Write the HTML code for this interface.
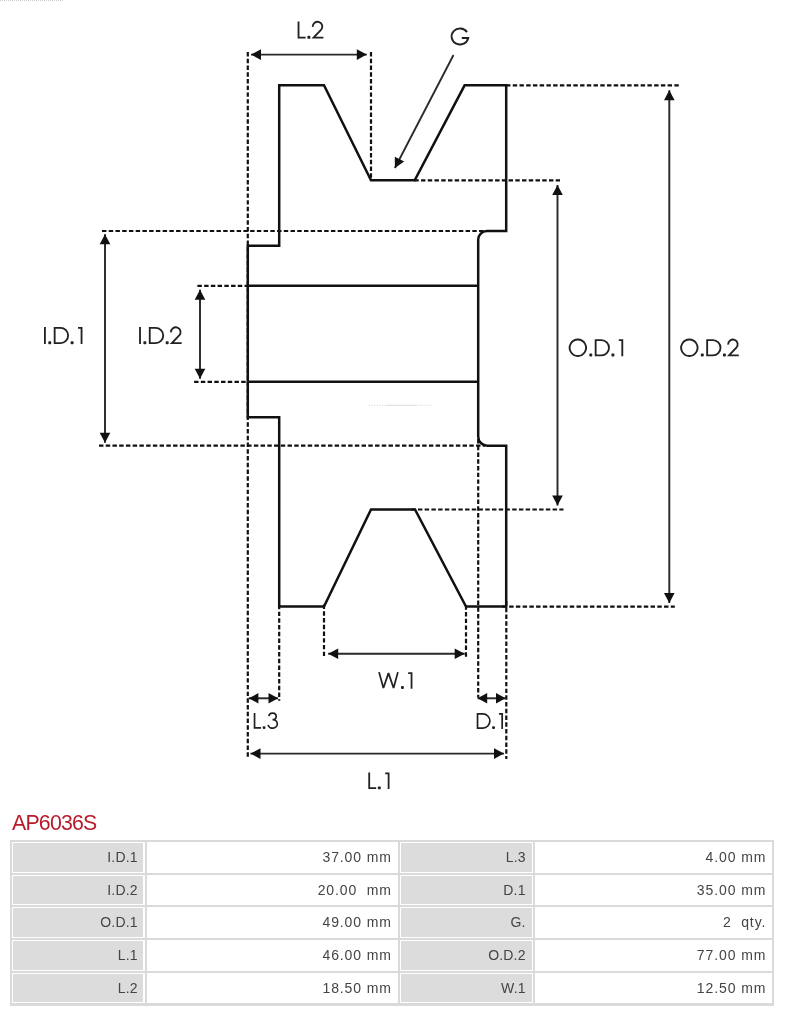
<!DOCTYPE html>
<html><head><meta charset="utf-8"><title>AP6036S</title>
<style>
html,body{margin:0;padding:0;background:#fff;}
body{width:788px;height:1011px;position:relative;overflow:hidden;font-family:"Liberation Sans",sans-serif;}
svg{position:absolute;left:0;top:0;}
h1{position:absolute;left:11.5px;top:811px;margin:0;font-weight:normal;font-size:21.3px;line-height:24px;color:#b81c2a;letter-spacing:-0.78px;will-change:transform;}
.t{position:absolute;left:10px;top:840px;width:764px;height:165.50px;background:#dadada;will-change:transform;}
.c{position:absolute;box-sizing:border-box;border:1px solid #fff;display:flex;align-items:center;justify-content:flex-end;font-size:14px;letter-spacing:0.5px;color:#444;white-space:nowrap;}
.c span{display:block;position:relative;top:-0.5px;}
.k{background:#dcdcdc;letter-spacing:0.2px;}
.v{background:#fff;letter-spacing:0.9px;}
</style></head><body>
<svg width="788" height="810" viewBox="0 0 788 810">
<line x1="0" y1="0.5" x2="63" y2="0.5" stroke="#cfcfcf" stroke-width="1" stroke-dasharray="1 1"/>
<line x1="369" y1="405.3" x2="434" y2="405.3" stroke="#d4d4d4" stroke-width="1" stroke-dasharray="1 1.6"/>
<line x1="386" y1="405.3" x2="417" y2="405.3" stroke="#dedede" stroke-width="1"/>
<line x1="247.8" y1="52" x2="247.8" y2="757" stroke="#111" stroke-width="2.2" stroke-dasharray="4.45 2.283"/>
<line x1="371" y1="52" x2="371" y2="180" stroke="#111" stroke-width="2.2" stroke-dasharray="4.45 2.283"/>
<line x1="506" y1="85.3" x2="679" y2="85.3" stroke="#111" stroke-width="2.2" stroke-dasharray="4.45 2.283"/>
<line x1="502.43" y1="606.7" x2="674.8" y2="606.7" stroke="#111" stroke-width="2.2" stroke-dasharray="4.45 2.283"/>
<line x1="414.3" y1="180.3" x2="560" y2="180.3" stroke="#111" stroke-width="2.2" stroke-dasharray="4.45 2.283"/>
<line x1="411.2" y1="509.5" x2="563.5" y2="509.5" stroke="#111" stroke-width="2.2" stroke-dasharray="4.45 2.283"/>
<line x1="102" y1="231" x2="484" y2="231" stroke="#111" stroke-width="2.2" stroke-dasharray="4.45 2.283"/>
<line x1="99" y1="445.7" x2="485" y2="445.7" stroke="#111" stroke-width="2.2" stroke-dasharray="4.45 2.283"/>
<line x1="197.4" y1="285.8" x2="248" y2="285.8" stroke="#111" stroke-width="2.2" stroke-dasharray="4.45 2.283"/>
<line x1="194.1" y1="381.9" x2="248" y2="381.9" stroke="#111" stroke-width="2.2" stroke-dasharray="4.45 2.283"/>
<line x1="279.2" y1="604.9" x2="279.2" y2="700.8" stroke="#111" stroke-width="2.2" stroke-dasharray="4.45 2.283"/>
<line x1="324" y1="604.5" x2="324" y2="655.9" stroke="#111" stroke-width="2.2" stroke-dasharray="4.45 2.283"/>
<line x1="466" y1="605.2" x2="466" y2="656.9" stroke="#111" stroke-width="2.2" stroke-dasharray="4.45 2.283"/>
<line x1="478.2" y1="439.0" x2="478.2" y2="697.5" stroke="#111" stroke-width="2.2" stroke-dasharray="4.45 2.283"/>
<line x1="506.3" y1="601.1" x2="506.3" y2="759" stroke="#111" stroke-width="2.2" stroke-dasharray="4.45 2.283"/>
<path d="M279.2,85.3 H324 L371,180.3 H414.7 L464.6,85.3 H506.2 V231 H486.8 A8.6,8.6 0 0 0 478.2,239.6 V436.5 A9.2,9.2 0 0 0 487.4,445.7 H506.2 V606.6 H466 L415,509.5 H371 L324,606.6 H279.2 V417.3 H247.8 V245.8 H279.2 Z" fill="none" stroke="#111" stroke-width="2.5" stroke-linejoin="miter"/>
<line x1="247.8" y1="285.8" x2="478.2" y2="285.8" stroke="#111" stroke-width="2.5"/>
<line x1="247.8" y1="381.8" x2="478.2" y2="381.8" stroke="#111" stroke-width="2.5"/>
<line x1="251" y1="54.6" x2="366.8" y2="54.6" stroke="#2a2a2a" stroke-width="1.95"/>
<polygon points="366.80,54.60 356.80,59.90 356.80,49.30" fill="#111"/>
<polygon points="251.00,54.60 261.00,49.30 261.00,59.90" fill="#111"/>
<line x1="453.5" y1="55" x2="394.9" y2="168" stroke="#2a2a2a" stroke-width="1.85"/>
<polygon points="394.90,168.00 394.80,156.68 404.21,161.56" fill="#111"/>
<line x1="105" y1="234.3" x2="105" y2="442.8" stroke="#2a2a2a" stroke-width="1.95"/>
<polygon points="105.00,442.80 99.70,432.80 110.30,432.80" fill="#111"/>
<polygon points="105.00,234.30 110.30,244.30 99.70,244.30" fill="#111"/>
<line x1="200.0" y1="289.8" x2="200.0" y2="378.8" stroke="#2a2a2a" stroke-width="1.95"/>
<polygon points="200.00,378.80 194.70,368.80 205.30,368.80" fill="#111"/>
<polygon points="200.00,289.80 205.30,299.80 194.70,299.80" fill="#111"/>
<line x1="557.5" y1="184.9" x2="557.5" y2="505.5" stroke="#2a2a2a" stroke-width="1.95"/>
<polygon points="557.50,505.50 552.20,495.50 562.80,495.50" fill="#111"/>
<polygon points="557.50,184.90 562.80,194.90 552.20,194.90" fill="#111"/>
<line x1="669.3" y1="90.2" x2="669.3" y2="603.1" stroke="#2a2a2a" stroke-width="1.95"/>
<polygon points="669.30,603.10 664.00,593.10 674.60,593.10" fill="#111"/>
<polygon points="669.30,90.20 674.60,100.20 664.00,100.20" fill="#111"/>
<line x1="328.2" y1="653.7" x2="464.7" y2="653.7" stroke="#2a2a2a" stroke-width="1.95"/>
<polygon points="464.70,653.70 454.70,659.00 454.70,648.40" fill="#111"/>
<polygon points="328.20,653.70 338.20,648.40 338.20,659.00" fill="#111"/>
<line x1="248.8" y1="698.3" x2="278.1" y2="698.3" stroke="#2a2a2a" stroke-width="1.95"/>
<polygon points="278.10,698.30 268.50,703.50 268.50,693.10" fill="#111"/>
<polygon points="248.80,698.30 258.40,693.10 258.40,703.50" fill="#111"/>
<line x1="477.6" y1="698.3" x2="505.6" y2="698.3" stroke="#2a2a2a" stroke-width="1.95"/>
<polygon points="505.60,698.30 496.00,703.50 496.00,693.10" fill="#111"/>
<polygon points="477.60,698.30 487.20,693.10 487.20,703.50" fill="#111"/>
<line x1="250.5" y1="753.6" x2="504" y2="753.6" stroke="#2a2a2a" stroke-width="1.95"/>
<polygon points="504.00,753.60 494.00,758.90 494.00,748.30" fill="#111"/>
<polygon points="250.50,753.60 260.50,748.30 260.50,758.90" fill="#111"/>
<path transform="translate(297.60,21.50) scale(17.100,17.100)" d="M0.054,0 V0.946 H0.47" fill="none" stroke="#222" stroke-width="1.85" vector-effect="non-scaling-stroke" stroke-linejoin="miter" stroke-miterlimit="10"/>
<rect x="307.39" y="35.81" width="2.99" height="2.99" rx="0.90" fill="#222"/>
<path transform="translate(311.62,21.50) scale(17.100,17.100)" d="M0.063,0.315 A0.282,0.282 0 1 1 0.548,0.496 L0.115,0.946 H0.69" fill="none" stroke="#222" stroke-width="1.85" vector-effect="non-scaling-stroke" stroke-linejoin="miter" stroke-miterlimit="10"/>
<path d="M467.04,32.12 A8.4,7.95 0 1 0 468.25,37.95 H461.80" fill="none" stroke="#222" stroke-width="1.85" stroke-linejoin="miter"/>
<path transform="translate(44.00,327.00) scale(17.000,17.000)" d="M0.054,0 V1" fill="none" stroke="#222" stroke-width="1.84" vector-effect="non-scaling-stroke" stroke-linejoin="miter" stroke-miterlimit="10"/>
<rect x="48.26" y="341.22" width="2.97" height="2.97" rx="0.89" fill="#222"/>
<path transform="translate(53.74,327.00) scale(17.000,17.000)" d="M0.054,0.054 H0.40 A0.446,0.446 0 0 1 0.40,0.946 H0.054 Z" fill="none" stroke="#222" stroke-width="1.84" vector-effect="non-scaling-stroke" stroke-linejoin="miter" stroke-miterlimit="10"/>
<rect x="70.61" y="341.22" width="2.97" height="2.97" rx="0.89" fill="#222"/>
<path transform="translate(78.05,327.00) scale(17.000,17.000)" d="M0,0.054 H0.20600000000000002 V1" fill="none" stroke="#222" stroke-width="1.84" vector-effect="non-scaling-stroke" stroke-linejoin="miter" stroke-miterlimit="10"/>
<path transform="translate(139.10,327.00) scale(17.000,17.000)" d="M0.054,0 V1" fill="none" stroke="#222" stroke-width="1.84" vector-effect="non-scaling-stroke" stroke-linejoin="miter" stroke-miterlimit="10"/>
<rect x="143.36" y="341.22" width="2.97" height="2.97" rx="0.89" fill="#222"/>
<path transform="translate(148.84,327.00) scale(17.000,17.000)" d="M0.054,0.054 H0.40 A0.446,0.446 0 0 1 0.40,0.946 H0.054 Z" fill="none" stroke="#222" stroke-width="1.84" vector-effect="non-scaling-stroke" stroke-linejoin="miter" stroke-miterlimit="10"/>
<rect x="165.71" y="341.22" width="2.97" height="2.97" rx="0.89" fill="#222"/>
<path transform="translate(169.92,327.00) scale(17.000,17.000)" d="M0.063,0.315 A0.282,0.282 0 1 1 0.548,0.496 L0.115,0.946 H0.69" fill="none" stroke="#222" stroke-width="1.84" vector-effect="non-scaling-stroke" stroke-linejoin="miter" stroke-miterlimit="10"/>
<path transform="translate(568.80,339.20) scale(16.844,17.100)" d="M0.5375,0.015000000000000013 A0.485,0.485 0 1 1 0.5365,0.015000000000000013 Z" fill="none" stroke="#222" stroke-width="1.85" vector-effect="non-scaling-stroke" stroke-linejoin="miter" stroke-miterlimit="10"/>
<rect x="589.28" y="353.51" width="2.99" height="2.99" rx="0.90" fill="#222"/>
<path transform="translate(594.74,339.20) scale(16.844,17.100)" d="M0.054,0.054 H0.40 A0.446,0.446 0 0 1 0.40,0.946 H0.054 Z" fill="none" stroke="#222" stroke-width="1.85" vector-effect="non-scaling-stroke" stroke-linejoin="miter" stroke-miterlimit="10"/>
<rect x="611.43" y="353.51" width="2.99" height="2.99" rx="0.90" fill="#222"/>
<path transform="translate(618.83,339.20) scale(16.844,17.100)" d="M0,0.054 H0.20600000000000002 V1" fill="none" stroke="#222" stroke-width="1.85" vector-effect="non-scaling-stroke" stroke-linejoin="miter" stroke-miterlimit="10"/>
<path transform="translate(680.30,339.20) scale(16.844,17.100)" d="M0.5375,0.015000000000000013 A0.485,0.485 0 1 1 0.5365,0.015000000000000013 Z" fill="none" stroke="#222" stroke-width="1.85" vector-effect="non-scaling-stroke" stroke-linejoin="miter" stroke-miterlimit="10"/>
<rect x="700.78" y="353.51" width="2.99" height="2.99" rx="0.90" fill="#222"/>
<path transform="translate(706.24,339.20) scale(16.844,17.100)" d="M0.054,0.054 H0.40 A0.446,0.446 0 0 1 0.40,0.946 H0.054 Z" fill="none" stroke="#222" stroke-width="1.85" vector-effect="non-scaling-stroke" stroke-linejoin="miter" stroke-miterlimit="10"/>
<rect x="722.93" y="353.51" width="2.99" height="2.99" rx="0.90" fill="#222"/>
<path transform="translate(727.12,339.20) scale(16.844,17.100)" d="M0.063,0.315 A0.282,0.282 0 1 1 0.548,0.496 L0.115,0.946 H0.69" fill="none" stroke="#222" stroke-width="1.85" vector-effect="non-scaling-stroke" stroke-linejoin="miter" stroke-miterlimit="10"/>
<path transform="translate(378.40,672.30) scale(16.400,16.400)" d="M0.04,-0.01 L0.305,0.955 L0.615,0.05 L0.925,0.955 L1.19,-0.01" fill="none" stroke="#222" stroke-width="1.77" vector-effect="non-scaling-stroke" stroke-linejoin="bevel" stroke-miterlimit="10"/>
<rect x="400.99" y="686.03" width="2.87" height="2.87" rx="0.86" fill="#222"/>
<path transform="translate(408.17,672.30) scale(16.400,16.400)" d="M0,0.054 H0.20600000000000002 V1" fill="none" stroke="#222" stroke-width="1.77" vector-effect="non-scaling-stroke" stroke-linejoin="miter" stroke-miterlimit="10"/>
<path transform="translate(253.70,713.00) scale(15.700,15.700)" d="M0.054,0 V0.946 H0.47" fill="none" stroke="#222" stroke-width="1.70" vector-effect="non-scaling-stroke" stroke-linejoin="miter" stroke-miterlimit="10"/>
<rect x="262.69" y="726.15" width="2.75" height="2.75" rx="0.82" fill="#222"/>
<path transform="translate(267.04,713.00) scale(15.700,15.700)" d="M0.118,0.196 A0.233,0.21 0 1 1 0.350,0.424 A0.3,0.27 0 1 1 0.062,0.755" fill="none" stroke="#222" stroke-width="1.70" vector-effect="non-scaling-stroke" stroke-linejoin="miter" stroke-miterlimit="10"/>
<path transform="translate(476.70,713.10) scale(15.563,15.800)" d="M0.054,0.054 H0.40 A0.446,0.446 0 0 1 0.40,0.946 H0.054 Z" fill="none" stroke="#222" stroke-width="1.71" vector-effect="non-scaling-stroke" stroke-linejoin="miter" stroke-miterlimit="10"/>
<rect x="492.13" y="726.34" width="2.77" height="2.77" rx="0.83" fill="#222"/>
<path transform="translate(498.96,713.10) scale(15.563,15.800)" d="M0,0.054 H0.20600000000000002 V1" fill="none" stroke="#222" stroke-width="1.71" vector-effect="non-scaling-stroke" stroke-linejoin="miter" stroke-miterlimit="10"/>
<path transform="translate(368.30,772.40) scale(16.700,16.700)" d="M0.054,0 V0.946 H0.47" fill="none" stroke="#222" stroke-width="1.80" vector-effect="non-scaling-stroke" stroke-linejoin="miter" stroke-miterlimit="10"/>
<rect x="377.86" y="786.38" width="2.92" height="2.92" rx="0.88" fill="#222"/>
<path transform="translate(385.17,772.40) scale(16.700,16.700)" d="M0,0.054 H0.20600000000000002 V1" fill="none" stroke="#222" stroke-width="1.80" vector-effect="non-scaling-stroke" stroke-linejoin="miter" stroke-miterlimit="10"/>
</svg>
<h1>AP6036S</h1>
<div class="t">
<div class="c k" style="left:2.0px;top:2.00px;width:133.0px;height:30.70px;border-left-width:1px;border-right-width:2px;padding-right:5.2px"><span>I.D.1</span></div>
<div class="c v" style="left:137.0px;top:2.00px;width:250.6px;height:30.70px;border-left-width:1px;border-right-width:1px;padding-right:4.7px"><span>37.00 mm</span></div>
<div class="c k" style="left:389.5px;top:2.00px;width:133.5px;height:30.70px;border-left-width:1.5px;border-right-width:1.7px;padding-right:6.3px"><span>L.3</span></div>
<div class="c v" style="left:525.0px;top:2.00px;width:237.0px;height:30.70px;border-left-width:1px;border-right-width:1px;padding-right:4.7px"><span>4.00 mm</span></div>
<div class="c k" style="left:2.0px;top:34.70px;width:133.0px;height:30.70px;border-left-width:1px;border-right-width:2px;padding-right:5.2px"><span>I.D.2</span></div>
<div class="c v" style="left:137.0px;top:34.70px;width:250.6px;height:30.70px;border-left-width:1px;border-right-width:1px;padding-right:4.7px"><span>20.00&nbsp; mm</span></div>
<div class="c k" style="left:389.5px;top:34.70px;width:133.5px;height:30.70px;border-left-width:1.5px;border-right-width:1.7px;padding-right:6.3px"><span>D.1</span></div>
<div class="c v" style="left:525.0px;top:34.70px;width:237.0px;height:30.70px;border-left-width:1px;border-right-width:1px;padding-right:4.7px"><span>35.00 mm</span></div>
<div class="c k" style="left:2.0px;top:67.40px;width:133.0px;height:30.70px;border-left-width:1px;border-right-width:2px;padding-right:5.2px"><span>O.D.1</span></div>
<div class="c v" style="left:137.0px;top:67.40px;width:250.6px;height:30.70px;border-left-width:1px;border-right-width:1px;padding-right:4.7px"><span>49.00 mm</span></div>
<div class="c k" style="left:389.5px;top:67.40px;width:133.5px;height:30.70px;border-left-width:1.5px;border-right-width:1.7px;padding-right:6.3px"><span>G.</span></div>
<div class="c v" style="left:525.0px;top:67.40px;width:237.0px;height:30.70px;border-left-width:1px;border-right-width:1px;padding-right:4.7px"><span>2&nbsp; qty.</span></div>
<div class="c k" style="left:2.0px;top:100.10px;width:133.0px;height:30.70px;border-left-width:1px;border-right-width:2px;padding-right:5.2px"><span>L.1</span></div>
<div class="c v" style="left:137.0px;top:100.10px;width:250.6px;height:30.70px;border-left-width:1px;border-right-width:1px;padding-right:4.7px"><span>46.00 mm</span></div>
<div class="c k" style="left:389.5px;top:100.10px;width:133.5px;height:30.70px;border-left-width:1.5px;border-right-width:1.7px;padding-right:6.3px"><span>O.D.2</span></div>
<div class="c v" style="left:525.0px;top:100.10px;width:237.0px;height:30.70px;border-left-width:1px;border-right-width:1px;padding-right:4.7px"><span>77.00 mm</span></div>
<div class="c k" style="left:2.0px;top:132.80px;width:133.0px;height:30.70px;border-left-width:1px;border-right-width:2px;padding-right:5.2px"><span>L.2</span></div>
<div class="c v" style="left:137.0px;top:132.80px;width:250.6px;height:30.70px;border-left-width:1px;border-right-width:1px;padding-right:4.7px"><span>18.50 mm</span></div>
<div class="c k" style="left:389.5px;top:132.80px;width:133.5px;height:30.70px;border-left-width:1.5px;border-right-width:1.7px;padding-right:6.3px"><span>W.1</span></div>
<div class="c v" style="left:525.0px;top:132.80px;width:237.0px;height:30.70px;border-left-width:1px;border-right-width:1px;padding-right:4.7px"><span>12.50 mm</span></div>
</div>
</body></html>
